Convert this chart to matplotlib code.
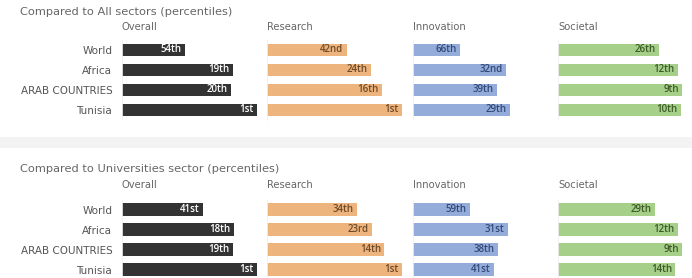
import matplotlib
matplotlib.use("Agg")
import matplotlib.pyplot as plt
from matplotlib.patches import Rectangle

# ── data ──────────────────────────────────────────────────────────────────────
regions = ["World", "Africa", "ARAB COUNTRIES", "Tunisia"]
panels = ["Overall", "Research", "Innovation", "Societal"]

all_overall    = [54, 19, 20, 1]
all_research   = [42, 24, 16, 1]
all_innovation = [66, 32, 39, 29]
all_societal   = [26, 12, 9, 10]

uni_overall    = [41, 18, 19, 1]
uni_research   = [34, 23, 14, 1]
uni_innovation = [59, 31, 38, 41]
uni_societal   = [29, 12, 9, 14]

sections = [
    ("Compared to All sectors (percentiles)",
     [all_overall, all_research, all_innovation, all_societal]),
    ("Compared to Universities sector (percentiles)",
     [uni_overall, uni_research, uni_innovation, uni_societal]),
]

BAR_COLORS = ["#333333", "#edb47d", "#93acd9", "#a6d08a"]
TXT_COLORS = ["white", "#6e4b28", "#34497a", "#3d5a28"]

W, H = 692, 278
PANEL_X = [122, 267, 413, 558]   # left edge of each panel, px
PX_PER_UNIT = 1.35
PANEL_W = 140
SEC_TITLE_Y = [12, 169]          # px from top
SEC_HEAD_Y = [27, 185]
SEC_ROW0 = [50, 209.5]           # first row centre
PITCH = 20


def ordinal(p):
    if 10 <= p % 100 <= 20:
        suf = "th"
    else:
        suf = {1: "st", 2: "nd", 3: "rd"}.get(p % 10, "th")
    return f"{p}{suf}"


fig = plt.figure(figsize=(W / 100, H / 100), dpi=100)
fig.patch.set_facecolor("white")

# light grey band between the two blocks
fig.patches.append(Rectangle((0, 1 - 148 / H), 1, 11 / H, transform=fig.transFigure,
                             facecolor="#f3f3f3", edgecolor="none", zorder=0))

for s, (title, series) in enumerate(sections):
    fig.text(20 / W, 1 - SEC_TITLE_Y[s] / H, title, fontsize=8.2, color="#666666",
             ha="left", va="center", family="DejaVu Sans")
    top = SEC_ROW0[s] - PITCH / 2
    for k, vals in enumerate(series):
        ax = fig.add_axes([PANEL_X[k] / W, 1 - (top + 4 * PITCH) / H,
                           PANEL_W / W, 4 * PITCH / H])
        ax.set_facecolor("none")
        lengths = [101 - p for p in vals]
        ypos = list(range(len(regions)))
        ax.barh(ypos, lengths, height=0.64, color=BAR_COLORS[k])
        for y, ln, p in zip(ypos, lengths, vals):
            ax.annotate(ordinal(p), xy=(ln, y), xytext=(-2.5, 0),
                        textcoords="offset points", ha="right", va="center",
                        fontsize=7.0, fontweight="semibold", color=TXT_COLORS[k],
                        family="Open Sans")
        ax.set_xlim(0, PANEL_W / PX_PER_UNIT)
        ax.set_ylim(len(regions) - 0.5, -0.5)
        ax.set_xticks([])
        for side in ["top", "right", "bottom"]:
            ax.spines[side].set_visible(False)
        ax.spines["left"].set_color("#f0f0f0")
        ax.spines["left"].set_linewidth(0.6)
        if k == 0:
            ax.set_yticks(ypos)
            ax.set_yticklabels(regions, fontsize=7.5, color="#555555",
                               family="DejaVu Sans")
            ax.tick_params(axis="y", length=0, pad=7)
        else:
            ax.set_yticks([])
        fig.text(PANEL_X[k] / W, 1 - SEC_HEAD_Y[s] / H, panels[k], fontsize=7.2,
                 color="#666666", ha="left", va="center", family="DejaVu Sans")

fig.savefig("out.png", dpi=100, facecolor="white")
